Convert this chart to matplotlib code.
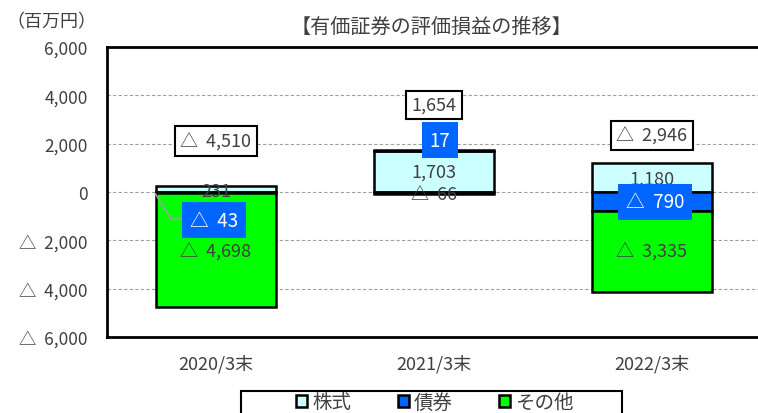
import numpy as np
import matplotlib
matplotlib.use("Agg")
import matplotlib.pyplot as plt
from matplotlib.patches import Patch, Rectangle

plt.rcParams['font.family'] = ['Noto Sans CJK JP', 'DejaVu Sans']

# data
categories = ["2020/3末", "2021/3末", "2022/3末"]
series_names = ["株式", "債券", "その他"]
stocks = [231, 1703, 1180]
bonds = [-43, 17, -790]
others = [-4698, -66, -3335]
totals = [-4510, 1654, -2946]
y_ticks = [-6000, -4000, -2000, 0, 2000, 4000, 6000]

colors = ["#CCFFFF", "#0066FF", "#00FF00"]
text_col = "#404040"


def fmt(v):
    if v < 0:
        return "△  {:,}".format(-v)
    return "{:,}".format(v)


fig = plt.figure(figsize=(7.58, 4.14), dpi=100)
ax = fig.add_axes([107 / 758, 1 - 338 / 414, 654 / 758, 290 / 414])

x = np.arange(len(categories))
width = 0.555

# stacked bars, positives up from 0 and negatives down from 0
pos_base = np.zeros(len(x))
neg_base = np.zeros(len(x))
for vals, col in zip([stocks, bonds, others], colors):
    vals = np.array(vals, dtype=float)
    bottoms = np.where(vals >= 0, pos_base, neg_base)
    ax.bar(x, vals, width, bottom=bottoms, color=col, edgecolor="black",
           linewidth=1.8, zorder=3)
    pos_base = pos_base + np.where(vals >= 0, vals, 0)
    neg_base = neg_base + np.where(vals < 0, vals, 0)

ax.set_xlim(-0.5, 2.5)
ax.set_ylim(-6000, 6000)
ax.set_yticks(y_ticks)
ax.set_yticklabels([fmt(v) for v in y_ticks], fontsize=12.5, color=text_col)
ax.set_xticks(x)
ax.set_xticklabels(categories, fontsize=13, color=text_col)
ax.tick_params(axis="y", length=0, pad=14)
ax.tick_params(axis="x", length=0, pad=12)
ax.yaxis.grid(True, linestyle=(0, (3, 2)), color="#a0a0a0", linewidth=0.8, zorder=0)
ax.set_axisbelow(True)
for s in ["left", "top", "bottom"]:
    ax.spines[s].set_linewidth(2)
    ax.spines[s].set_color("black")
ax.spines["right"].set_visible(False)

# label layout (value units / category offsets)
stock_y = [40, 830, 540]
other_y = [-2480, -80, -2480]
total_y = [2110, 3600, 2340]
bond_dx = [-0.011, 0.028, 0.014]
bond_y = [-1160, 2150, -410]

for i in range(len(x)):
    ax.text(x[i], stock_y[i], fmt(stocks[i]), ha="center", va="center",
            fontsize=13, color=text_col, zorder=4)
    ax.text(x[i], other_y[i], fmt(others[i]), ha="center", va="center",
            fontsize=13, color=text_col, zorder=4)
    ax.text(x[i] + bond_dx[i], bond_y[i], fmt(bonds[i]), ha="center", va="center",
            fontsize=13.5, color="white", zorder=6,
            bbox=dict(boxstyle="square,pad=0.42", facecolor="#0066FF", edgecolor="none"))
    ax.text(x[i], total_y[i], fmt(totals[i]), ha="center", va="center",
            fontsize=13, color=text_col, zorder=6,
            bbox=dict(boxstyle="square,pad=0.3", facecolor="white",
                      edgecolor="black", linewidth=1.5))

# leader line for the small 2020 bond label
ax.plot([x[0] - width / 2, x[0] - 0.206, x[0] - 0.16], [-80, -1120, -1120],
        color="#a0a0a0", linewidth=1.2, zorder=5)

fig.text(431 / 758, 1 - 27 / 414, "【有価証券の評価損益の推移】", ha="center", va="center",
         fontsize=14.5, color=text_col)
fig.text(6 / 758, 1 - 22 / 414, "（百万円）", ha="left", va="center",
         fontsize=13, color=text_col)

# legend with its own frame (frame runs off the bottom edge)
fig.patches.append(Rectangle((241 / 758, -0.05), 381 / 758, 0.05 + 22 / 414,
                             transform=fig.transFigure, facecolor="white",
                             edgecolor="black", linewidth=1.5, zorder=1))
handles = [Patch(facecolor=c, edgecolor="black", linewidth=1.8) for c in colors]
leg = fig.legend(handles, series_names, loc="center",
                 bbox_to_anchor=(435 / 758, 1 - 403 / 414), ncol=3,
                 fontsize=14, frameon=False,
                 handlelength=0.57, handleheight=0.57, handletextpad=0.25,
                 columnspacing=2.4, borderpad=0.0)
leg.set_zorder(2)
for t in leg.get_texts():
    t.set_color(text_col)

fig.savefig("out.png", dpi=100)
